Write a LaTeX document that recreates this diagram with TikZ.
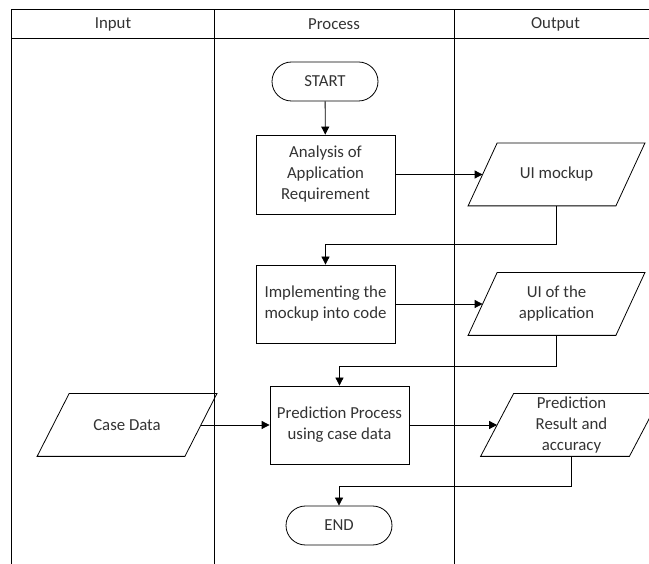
\documentclass[tikz,border=0pt]{standalone}
\usepackage{fontspec}
\setmainfont{Carlito}
\usetikzlibrary{arrows.meta,shapes.misc}

% outline of a data node: #1 node name, #2 half of the slant
\newcommand{\ioframe}[2]{%
  \draw ([xshift=-#2pt]#1.south west) -- ([xshift=-#2pt]#1.south east)
    -- ([xshift=#2pt]#1.north east) -- ([xshift=#2pt]#1.north west) -- cycle;}

\begin{document}
\begin{tikzpicture}[x=1pt,y=-1pt,line width=.8pt,
  every node/.style={font=\fontsize{16.8}{21}\selectfont,text=black!80},
  terminal/.style={draw,rounded rectangle,minimum width=106pt,minimum height=39pt,inner sep=0pt},
  procbox/.style={draw,rectangle,minimum width=139pt,minimum height=79pt,inner sep=0pt,align=center},
  iobox/.style={rectangle,minimum width=147pt,minimum height=62pt,inner sep=0pt,align=center},
  flow/.style={-{Triangle[length=8pt,width=8pt]}}]
\useasboundingbox (0,0) rectangle (649,564);
% swimlanes
\coordinate (l0) at (11.7,9.3);
\coordinate (l1) at (214,9.3);
\coordinate (l2) at (454,9.3);
\coordinate (r0) at (660,9.3);
\draw (11.7,564) -- (l0) -- (r0);
\draw (11.7,38.3) -- (660,38.3);
\draw (l1) -- (214,564);
\draw (l2) -- (454,564);
\node (hdrin) at (113,24.5) {Input};
\node (hdrproc) at (334,24.5) {Process};
\node (hdrout) at (555.5,24.5) {Output};
% process lane
\node[terminal] (start) at (325,81.5) {START};
\node[procbox] (analysis) at (325.5,174.5) {Analysis of\\Application\\Requirement};
\node[procbox,minimum height=78pt] (implement) at (325.5,304) {Implementing the\\mockup into code};
\node[procbox,minimum height=78pt] (predict) at (339.5,425) {Prediction Process\\using case data};
\node[terminal] (finish) at (339,525.5) {END};
% input / output lanes
\node[iobox] (casedata) at (127,425) {Case Data};
\node[iobox] (mockup) at (556.5,174.5) {UI mockup};
\node[iobox] (uiapp) at (556.5,304) {UI of the\\application};
\node[iobox,minimum width=148pt] (result) at (571.5,425) {Prediction\\Result and\\accuracy};
\ioframe{casedata}{16}
\ioframe{mockup}{14.5}
\ioframe{uiapp}{14.5}
\ioframe{result}{16.5}
% flow
\draw[flow] (start) -- (analysis);
\draw[flow] (analysis) -- (mockup);
\draw[flow] (mockup.south) -- ++(0,39) -| (implement.north);
\draw[flow] (implement) -- (uiapp);
\draw[flow] (uiapp.south) -- ++(0,31) -| (predict.north);
\draw[flow] (casedata) -- (predict);
\draw[flow] (predict) -- (result);
\draw[flow] (result.south) -- ++(0,30) -| (finish.north);
\end{tikzpicture}
\end{document}
